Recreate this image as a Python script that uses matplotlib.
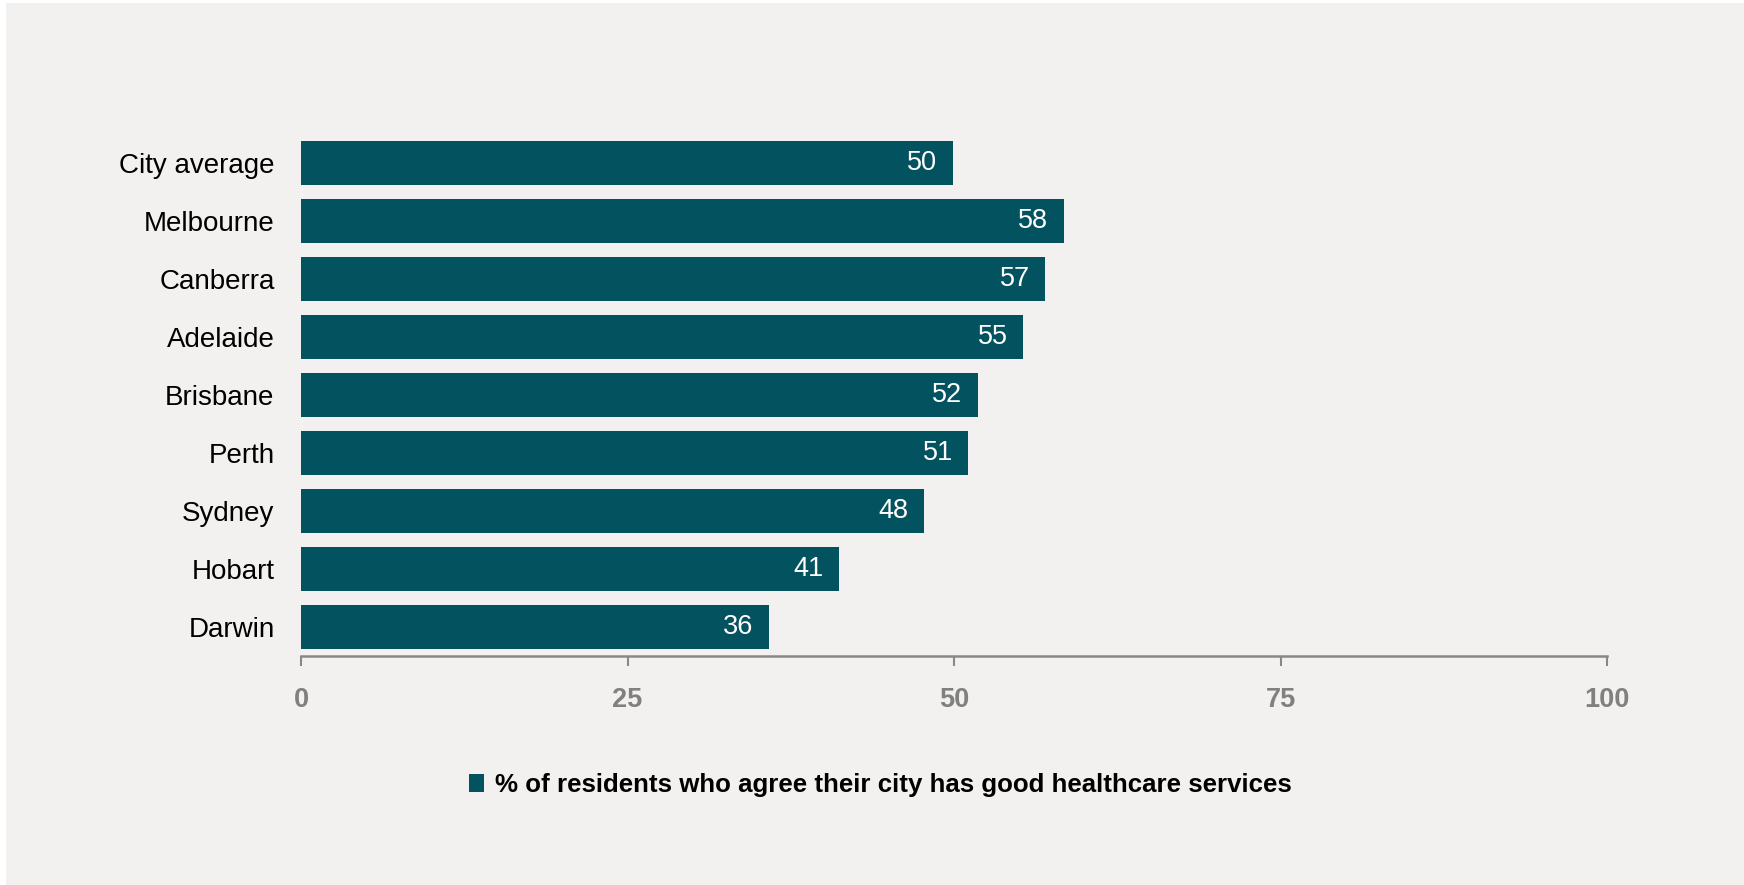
import matplotlib
matplotlib.use("Agg")
import matplotlib.pyplot as plt
from matplotlib.patches import Patch, Rectangle

cities = ["City average", "Melbourne", "Canberra", "Adelaide", "Brisbane",
          "Perth", "Sydney", "Hobart", "Darwin"]
values = [49.9, 58.4, 57.0, 55.3, 51.8, 51.1, 47.7, 41.2, 35.8]
xticks = [0, 25, 50, 75, 100]
legend_label = "% of residents who agree their city has good healthcare services"

BAR = "#03525f"
BG = "#f2f1ef"

plt.rcParams['font.family'] = ['Liberation Sans', 'DejaVu Sans']

fig = plt.figure(figsize=(17.44, 8.85), dpi=100)
fig.patch.set_facecolor("white")
fig.add_artist(Rectangle((6 / 1744, 0), 1 - 6 / 1744, 1 - 3 / 885,
                         transform=fig.transFigure, facecolor=BG,
                         edgecolor="none", zorder=-10))

ax = fig.add_axes([301 / 1744, 1 - 656 / 885, (1607 - 301) / 1744, (656 - 134) / 885])
ax.set_facecolor("none")

y = list(range(len(cities)))
bars = ax.barh(y, values, height=0.76, color=BAR)
ax.set_xlim(0, 100)
ax.set_ylim(len(cities) - 0.5, -0.5)

for yy, v in zip(y, values):
    ax.annotate(f"{v:.0f}", xy=(v, yy), xytext=(-11, 0), textcoords="offset points",
                ha="right", va="center", color="white", fontsize=19.5)

ax.set_yticks(y)
ax.set_yticklabels(cities, fontsize=20, color="black")
ax.tick_params(axis="y", length=0, pad=19)

ax.set_xticks(xticks)
ax.set_xticklabels([str(t) for t in xticks], fontsize=19.5, color="#808080",
                   fontweight="bold")
ax.tick_params(axis="x", length=7, width=1.5, color="#888888", pad=15)

for s in ["top", "right", "left"]:
    ax.spines[s].set_visible(False)
ax.spines["bottom"].set_color("#888888")
ax.spines["bottom"].set_linewidth(1.8)

fig.legend(handles=[Patch(facecolor=BAR, edgecolor="none", label=legend_label)],
           loc="center", bbox_to_anchor=(880 / 1744, 1 - 785 / 885),
           frameon=False, handlelength=0.6, handleheight=0.7, handletextpad=0.4,
           prop={"size": 18.6, "weight": "bold"})

fig.savefig("out.png", dpi=100, facecolor=fig.get_facecolor())
